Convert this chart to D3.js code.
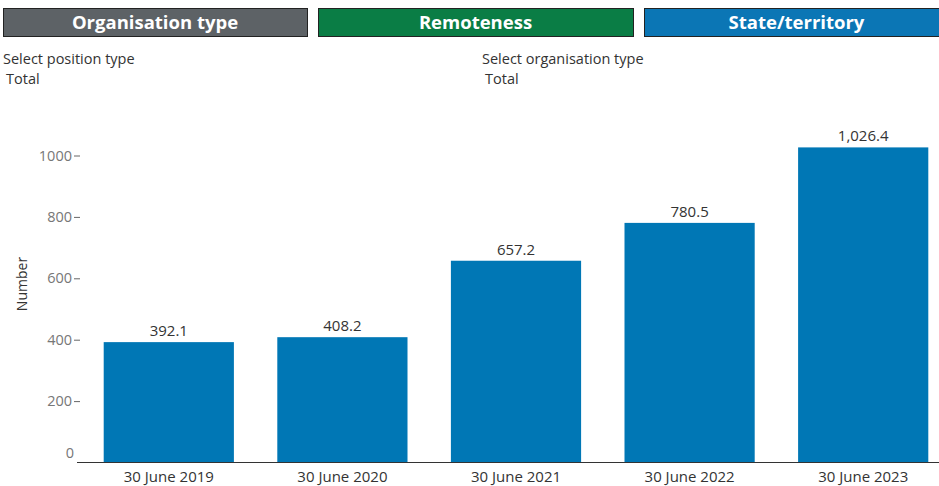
<!DOCTYPE html>
<html>
<head>
<meta charset="utf-8">
<script src="https://cdn.jsdelivr.net/npm/d3@7"></script>
<style>
  body { margin: 0; background: #fff; font-family: "Open Sans", "Noto Sans", sans-serif; }
  svg { display: block; }
</style>
</head>
<body>
<script>
// data
const periods = ["30 June 2019", "30 June 2020", "30 June 2021", "30 June 2022", "30 June 2023"];
const values = [392.1, 408.2, 657.2, 780.5, 1026.4];
const yTicks = [0, 200, 400, 600, 800, 1000];
const tabs = ["Organisation type", "Remoteness", "State/territory"];
const tabColors = ["#5d6266", "#0a7d45", "#0b76b5"];
const filters = [["Select position type", "Total"], ["Select organisation type", "Total"]];

const width = 939, height = 486;

// tab button edges (layout)
const tabEdges = [[3, 307], [318, 633], [644, 949]]

var svg = d3.select("body")
  .append("svg")
  .attr("width", width)
  .attr("height", height)

// tab buttons
const tab = svg.selectAll(".tab")
  .data(tabs)
  .enter()
  .append("g")
  .attr("class", "tab")

tab.append("rect")
  .attr("x", (d, i) => tabEdges[i][0] + 0.5)
  .attr("y", 8.5)
  .attr("width", (d, i) => tabEdges[i][1] - tabEdges[i][0])
  .attr("height", 28)
  .attr("fill", (d, i) => tabColors[i])
  .attr("stroke", "#222")
  .attr("stroke-width", 1)

tab.append("text")
  .attr("x", (d, i) => (tabEdges[i][0] + tabEdges[i][1]) / 2)
  .attr("y", 29)
  .attr("text-anchor", "middle")
  .attr("fill", "#fff")
  .attr("font-size", 18.5)
  .attr("font-weight", "bold")
  .text(d => d)

// filter labels
const filterX = [3, 482]
filters.forEach((f, i) => {
  svg.append("text")
    .attr("x", filterX[i]).attr("y", 64)
    .attr("font-size", 14.5).attr("fill", "#333")
    .text(f[0])
  svg.append("text")
    .attr("x", filterX[i] + 3).attr("y", 84)
    .attr("font-size", 14.5).attr("fill", "#333")
    .text(f[1])
})

// scales
const x = d3.scaleBand()
  .domain(periods)
  .range([82, 950])
  .paddingInner(0.25)
  .paddingOuter(0.125)

const y = d3.scaleLinear()
  .domain([0, 1000])
  .range([462.5, 155.5])

// bars
svg.append("g")
  .selectAll("rect")
  .data(values)
  .enter()
  .append("rect")
  .attr("x", (d, i) => x(periods[i]))
  .attr("y", d => y(d))
  .attr("width", x.bandwidth())
  .attr("height", d => y(0) - y(d))
  .attr("fill", "#0077b5")

// value labels
svg.append("g")
  .selectAll("text")
  .data(values)
  .enter()
  .append("text")
  .attr("x", (d, i) => x(periods[i]) + x.bandwidth() / 2)
  .attr("y", d => y(d) - 6)
  .attr("text-anchor", "middle")
  .attr("font-size", 15)
  .attr("fill", "#333")
  .text(d => d3.format(",.1f")(d))

// y axis
const yAxis = d3.axisLeft(y)
  .tickValues(yTicks.filter(t => t > 0))
  .tickFormat(d3.format("d"))
  .tickSize(6)
  .tickPadding(2)

const gy = svg.append("g")
  .attr("transform", "translate(80,0)")
  .call(yAxis)
gy.select(".domain").remove()
gy.selectAll("line").attr("stroke", "#666")
gy.selectAll("text").attr("font-size", 14.5).attr("fill", "#777").attr("font-family", "Open Sans, sans-serif")

// zero label sits above the baseline
svg.append("text")
  .attr("x", 74)
  .attr("y", y(0) - 5)
  .attr("text-anchor", "end")
  .attr("font-size", 14.5)
  .attr("fill", "#777")
  .text(yTicks[0])

svg.append("text")
  .attr("transform", "translate(27,284) rotate(-90)")
  .attr("text-anchor", "middle")
  .attr("font-size", 14)
  .attr("fill", "#333")
  .text("Number")

// x axis
const xAxis = d3.axisBottom(x).tickSize(0).tickPadding(9)
const gx = svg.append("g")
  .attr("transform", "translate(0," + y(0) + ")")
  .call(xAxis)
gx.select(".domain").attr("d", "M77,0H939").attr("stroke", "#333")
gx.selectAll("text").attr("font-size", 15).attr("fill", "#333").attr("font-family", "Open Sans, sans-serif")
</script>
</body>
</html>
